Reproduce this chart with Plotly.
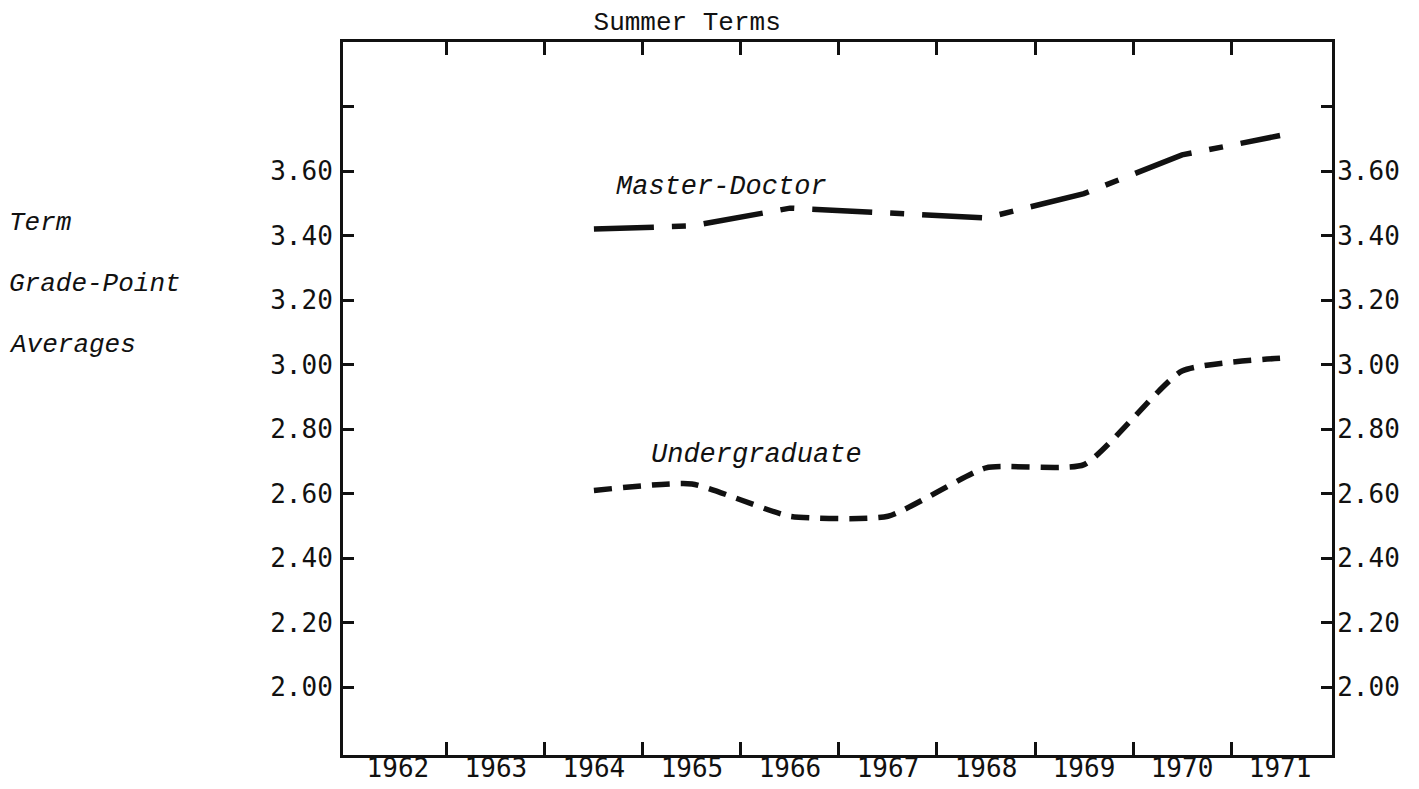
import plotly.graph_objects as go

# ---- data ----
years = [1962, 1963, 1964, 1965, 1966, 1967, 1968, 1969, 1970, 1971]
data_years = [1964, 1965, 1966, 1967, 1968, 1969, 1970, 1971]
master_doctor = [3.42, 3.43, 3.485, 3.47, 3.455, 3.53, 3.65, 3.71]
undergraduate = [2.61, 2.63, 2.53, 2.53, 2.68, 2.69, 2.98, 3.02]
y_tickvals = [2.00, 2.20, 2.40, 2.60, 2.80, 3.00, 3.20, 3.40, 3.60, 3.80]
y_ticktext = ["2.00", "2.20", "2.40", "2.60", "2.80", "3.00", "3.20", "3.40", "3.60", ""]
year_boundaries = [y + 0.5 for y in years[:-1]]

INK = "#111111"
MONO = "Liberation Mono"
SANS_MONO = "DejaVu Sans Mono"

fig = go.Figure()

fig.add_trace(go.Scatter(
    x=data_years, y=master_doctor, mode="lines", name="Master-Doctor",
    line=dict(color=INK, width=5.5, dash="60px,18px,14px,18px"),
    showlegend=False, hoverinfo="skip",
))
fig.add_trace(go.Scatter(
    x=data_years, y=undergraduate, mode="lines", name="Undergraduate",
    line=dict(color=INK, width=5.5, dash="18px,11px", shape="spline", smoothing=0.5),
    showlegend=False, hoverinfo="skip",
))
# invisible trace to activate the secondary axes
fig.add_trace(go.Scatter(x=[years[0]], y=[y_tickvals[0]], xaxis="x2", yaxis="y2",
                         mode="markers", marker=dict(opacity=0), showlegend=False,
                         hoverinfo="skip"))

xrange = [1961.44, 1971.53]
yrange = [1.79, 4.0]
tick_font = dict(family=SANS_MONO, size=26, color=INK)

fig.update_layout(
    width=1419, height=789,
    margin=dict(l=343, r=87, t=42, b=34, autoexpand=False),
    paper_bgcolor="white", plot_bgcolor="white",
    title=dict(text="Summer Terms", x=0.348, xref="paper", xanchor="center",
               y=0.973, yref="container", yanchor="middle",
               font=dict(family=MONO, size=26, color=INK)),
    xaxis=dict(
        range=xrange, tickmode="array", tickvals=years, ticktext=[str(y) for y in years],
        ticks="", showgrid=False, zeroline=False, automargin=False,
        showline=True, linecolor=INK, linewidth=3,
        tickfont=tick_font, ticklabelstandoff=-12,
        minor=dict(tickmode="array", tickvals=year_boundaries, ticks="inside",
                   ticklen=13, tickwidth=2.5, tickcolor=INK, showgrid=False),
    ),
    xaxis2=dict(
        range=xrange, overlaying="x", side="top", anchor="y", automargin=False,
        tickmode="array", tickvals=year_boundaries, showticklabels=False,
        ticks="inside", ticklen=13, tickwidth=2.5, tickcolor=INK,
        showgrid=False, zeroline=False, showline=True, linecolor=INK, linewidth=3,
    ),
    yaxis=dict(
        range=yrange, tickmode="array", tickvals=y_tickvals, ticktext=y_ticktext,
        ticks="inside", ticklen=11, tickwidth=2.5, tickcolor=INK, automargin=False,
        showgrid=False, zeroline=False, showline=True, linecolor=INK, linewidth=3,
        tickfont=tick_font, ticklabelstandoff=2,
    ),
    yaxis2=dict(
        range=yrange, overlaying="y", side="right", anchor="x", automargin=False,
        tickmode="array", tickvals=y_tickvals, ticktext=y_ticktext,
        ticks="inside", ticklen=11, tickwidth=2.5, tickcolor=INK,
        showgrid=False, zeroline=False, showline=True, linecolor=INK, linewidth=3,
        tickfont=tick_font, ticklabelstandoff=-3,
    ),
)

label_font = dict(family=MONO, size=27, color=INK, style="italic")
fig.add_annotation(x=1965.3, y=3.55, xref="x", yref="y", text="Master-Doctor",
                   showarrow=False, font=label_font)
fig.add_annotation(x=1965.66, y=2.72, xref="x", yref="y", text="Undergraduate",
                   showarrow=False, font=label_font)

side_font = dict(family=MONO, size=26, color=INK, style="italic")
for txt, yv in [("Term", 3.44), ("Grade-Point", 3.25), ("Averages", 3.06)]:
    fig.add_annotation(x=-0.34, y=yv, xref="paper", yref="y", text=txt,
                       xanchor="left", showarrow=False, font=side_font)

fig.write_html("out.html", config={"displayModeBar": False},
               post_script="document.body.style.margin='0';document.body.style.overflow='hidden';")
